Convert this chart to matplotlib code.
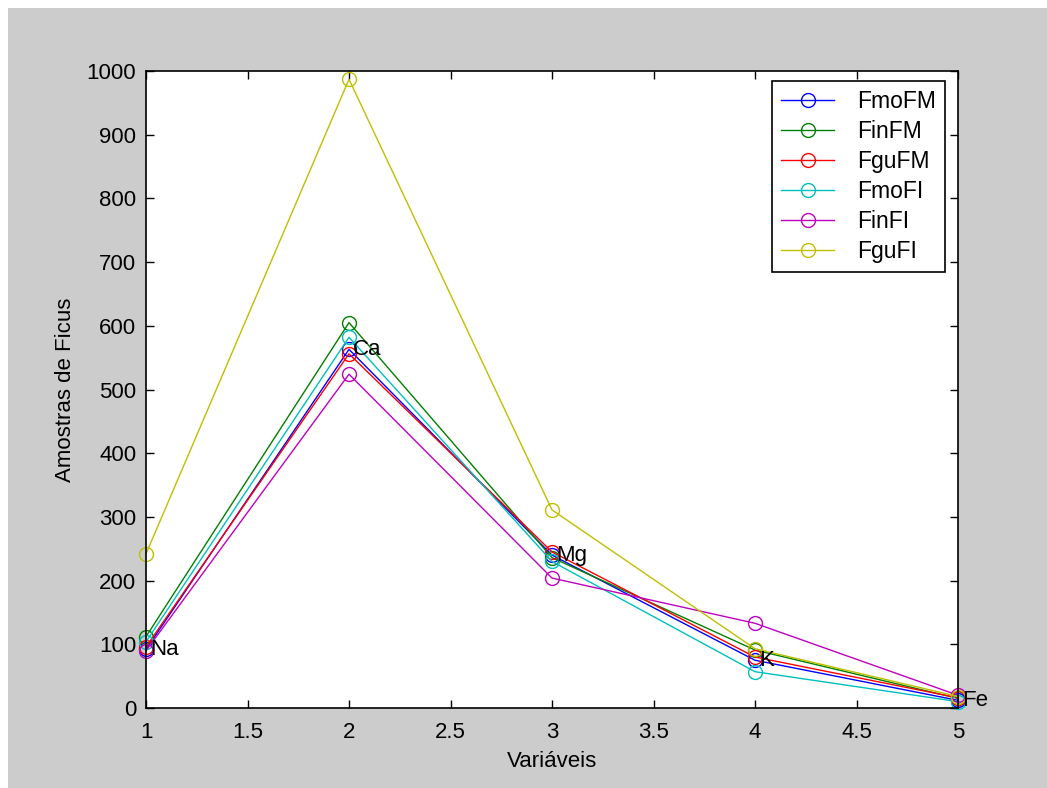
import matplotlib
matplotlib.use("Agg")
import matplotlib.pyplot as plt
from matplotlib.patches import Rectangle

plt.rcParams["font.family"] = ["Liberation Sans", "DejaVu Sans"]

variables = [1, 2, 3, 4, 5]
element_labels = ["Na", "Ca", "Mg", "K", "Fe"]

series_names = ["FmoFM", "FinFM", "FguFM", "FmoFI", "FinFI", "FguFI"]
fmo_fm = [92, 563, 240, 75, 12]
fin_fm = [112, 605, 236, 91, 15]
fgu_fm = [96, 556, 245, 80, 16]
fmo_fi = [104, 582, 230, 57, 10]
fin_fi = [90, 524, 204, 133, 20]
fgu_fi = [242, 987, 311, 93, 18]
series_values = [fmo_fm, fin_fm, fgu_fm, fmo_fi, fin_fi, fgu_fi]

colors = ["#0000ff", "#008000", "#ff0000", "#00bfbf", "#bf00bf", "#bfbf00"]

W, H = 1047, 788
FS = 16
fig = plt.figure(figsize=(W / 100, H / 100), dpi=100, facecolor="white")
fig.patches.append(Rectangle((8 / W, 0), 1 - 8 / W, 1 - 8 / H,
                             transform=fig.transFigure, facecolor="#cccccc",
                             edgecolor="none", zorder=-10))

ax = fig.add_axes([146 / W, 1 - 708 / H, (958 - 146) / W, (708 - 71) / H])
ax.set_facecolor("white")

for name, vals, c in zip(series_names, series_values, colors):
    ax.plot(variables, vals, color=c, marker="o", markersize=10,
            markerfacecolor="none", markeredgecolor=c, linewidth=1.0,
            label=name, clip_on=False)

for x, lab, y in zip(variables, element_labels, fmo_fm):
    ax.text(x + 0.02, y, lab, fontsize=FS, va="center", ha="left", color="black")

ax.set_xlim(1, 5)
ax.set_ylim(0, 1000)
ax.set_xticks([1, 1.5, 2, 2.5, 3, 3.5, 4, 4.5, 5])
ax.set_xticklabels(["1", "1.5", "2", "2.5", "3", "3.5", "4", "4.5", "5"])
ax.set_yticks(range(0, 1001, 100))
ax.tick_params(direction="in", top=True, right=True, length=6, width=1,
               labelsize=FS)
ax.tick_params(axis="x", pad=10)
ax.tick_params(axis="y", pad=7)
for s in ax.spines.values():
    s.set_linewidth(1.2)

ax.set_xlabel("Variáveis", fontsize=FS, labelpad=6)
ax.set_ylabel("Amostras de Ficus", fontsize=FS, labelpad=8)

leg = ax.legend(loc="upper right", bbox_to_anchor=(945 / W, 1 - 81 / H),
                bbox_transform=fig.transFigure, borderaxespad=0,
                fontsize=16.5, fancybox=False, framealpha=1,
                edgecolor="black", borderpad=0.4, labelspacing=0.3,
                handlelength=2.3, handletextpad=1.0)
leg.get_frame().set_linewidth(1.2)

fig.savefig("out.png", dpi=100, facecolor=fig.get_facecolor())
